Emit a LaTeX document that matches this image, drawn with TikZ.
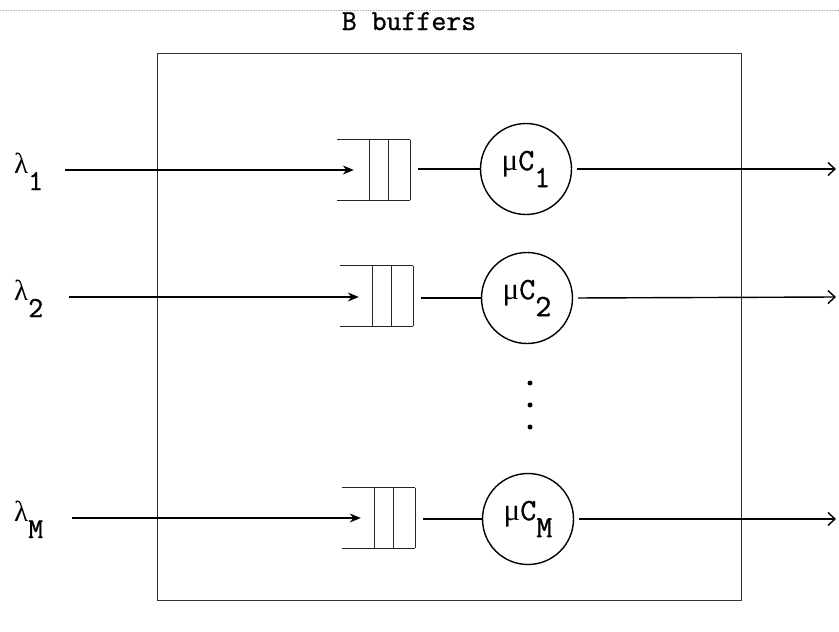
\documentclass[tikz,border=0pt]{standalone}
\usepackage{fontspec}
\setmonofont{Latin Modern Mono}[FakeBold=1]
\newfontfamily\greekfont{Liberation Serif}
\usetikzlibrary{arrows.meta}
% subscript set full size and dropped well below the baseline
\newcommand{\lowsub}[1]{\raisebox{-17pt}{#1}}
\tikzset{
  wire/.style={line width=1.4pt, black},
  inarrow/.style={wire, -{Stealth[length=11pt,width=9pt]}},
  outarrow/.style={wire, -{Straight Barb[length=7pt,width=13pt,line width=1.4pt]}},
  server/.style={circle, draw, line width=1.4pt, minimum size=91pt,
                 inner sep=0pt, font=\ttfamily\fontsize{31}{31}\selectfont},
  qcore/.style={rectangle, draw=none, minimum width=40pt, minimum height=60pt, inner sep=0pt},
  lab/.style={font=\ttfamily\fontsize{29}{29}\selectfont, inner sep=0pt, anchor=base west},
  qline/.style={line width=1.1pt, black!85},
  frame/.style={line width=1.2pt, black!80},
}
% one FIFO buffer drawn from the anchors of its core node
\newcommand{\drawqueue}[1]{%
  \draw[qline] ([xshift=-33pt]#1.north west) -- (#1.north east);
  \draw[qline] ([xshift=-33pt]#1.south west) -- (#1.south east);
  \draw[qline] (#1.north west) -- (#1.south west);
  \draw[qline] ([xshift=19pt]#1.north west) -- ([xshift=19pt]#1.south west);
  \draw[qline] (#1.north east) -- (#1.south east);
}
\begin{document}
\begin{tikzpicture}[x=1pt,y=-1pt]
\useasboundingbox (0,0) rectangle (839,632);

% faint page edge along the top
\draw[black!30, line width=0.6pt, densely dotted] (0,10) -- (839,10);

% system boundary
\node[draw=none, inner sep=0pt, minimum width=583pt, minimum height=546pt] (sys) at (449.5,327) {};
\draw[frame] (sys.north west) rectangle (sys.south east);
\node[font=\ttfamily\fontsize{29}{29}\selectfont, inner sep=0pt, anchor=base] (title) at (409,30) {B buffers};

% arrival labels
\node[lab] (l1) at (14,173) {{\greekfont λ}\lowsub{1}};
\node[lab] (l2) at (14,300) {{\greekfont λ}\lowsub{2}};
\node[lab] (lM) at (14,521) {{\greekfont λ}\lowsub{M}};

% buffers
\node[qcore] (q1) at (390,170) {};
\node[qcore] (q2) at (393,296) {};
\node[qcore] (qM) at (395,518) {};
\drawqueue{q1}
\drawqueue{q2}
\drawqueue{qM}

% servers
\node[server] (s1) at (526,169) {{\greekfont μ}C\lowsub{1}};
\node[server] (s2) at (527,298) {{\greekfont μ}C\lowsub{2}};
\node[server] (sM) at (528,519) {{\greekfont μ}C\lowsub{M}};

% free ends of the arrival and departure lines
\coordinate (i1) at (65,170);
\coordinate (i2) at (69,297);
\coordinate (iM) at (72,518);
\coordinate (o1) at (836,169);
\coordinate (o2) at (836,297);
\coordinate (oM) at (836,519);

% arrivals into the buffers
\draw[inarrow, shorten >=16pt] (i1) -- (q1.west |- i1);
\draw[inarrow, shorten >=14pt] (i2) -- (q2.west |- i2);
\draw[inarrow, shorten >=14pt] (iM) -- (qM.west |- iM);

% buffer to server
\draw[wire, shorten <=8pt] (q1.east |- s1) -- (s1.west);
\draw[wire, shorten <=8pt] (q2.east |- s2) -- (s2.west);
\draw[wire, shorten <=8pt] (qM.east |- sM) -- (sM.west);

% departures
\draw[outarrow, shorten <=5pt] (s1.east) -- (o1);
\draw[outarrow, shorten <=5pt] (s2.east) -- (o2);
\draw[outarrow, shorten <=5pt] (sM.east) -- (oM);

% ellipsis between the rows
\fill (530,383) circle (2.5pt);
\fill (530,405) circle (2.5pt);
\fill (530,427) circle (2.5pt);
\end{tikzpicture}
\end{document}
